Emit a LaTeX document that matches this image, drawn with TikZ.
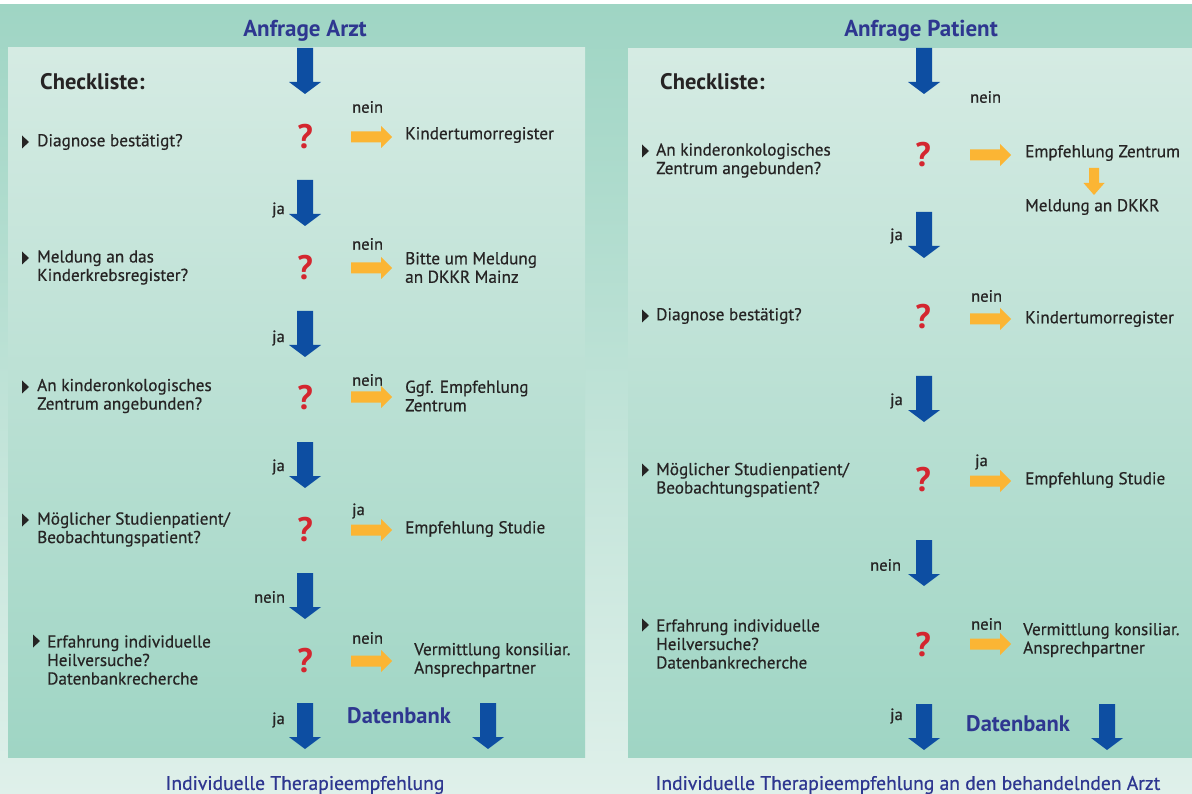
\documentclass[tikz,border=0pt]{standalone}
\usepackage{fontspec}
\setmainfont{PT Sans}
\newfontfamily\medfont{PT Sans}[FakeBold=0.6]
\definecolor{bgtop}{HTML}{9FD5C4}
\definecolor{bgbottom}{HTML}{DFF0EA}
\definecolor{intop}{HTML}{D5EBE3}
\definecolor{inbottom}{HTML}{9FD5C4}
\definecolor{arrowblue}{HTML}{0D4EA2}
\definecolor{arroworange}{HTML}{FBB534}
\definecolor{titleblue}{HTML}{2E3790}
\definecolor{txtdark}{HTML}{262424}
\definecolor{qred}{HTML}{D4262F}
\begin{document}
\begin{tikzpicture}[x=1pt,y=-1pt,
  txt/.style={anchor=west,inner sep=0pt,font=\medfont\fontsize{17.2}{18.5}\selectfont,text=txtdark,align=left},
  lbl/.style={anchor=west,inner sep=0pt,font=\medfont\fontsize{16.5}{18}\selectfont,text=txtdark},
  headtitle/.style={inner sep=0pt,font=\fontsize{23}{26}\selectfont\bfseries,text=titleblue},
  foottitle/.style={inner sep=0pt,font=\medfont\fontsize{19.6}{22}\selectfont,text=titleblue},
  dbtitle/.style={anchor=west,inner sep=0pt,font=\fontsize{22.5}{26}\selectfont\bfseries,text=titleblue},
  checkl/.style={anchor=west,inner sep=0pt,font=\fontsize{22.5}{26}\selectfont\bfseries,text=txtdark},
  qm/.style={inner sep=0pt,font=\fontsize{34}{34}\selectfont\bfseries,text=qred},
  bluedown/.pic={\fill[arrowblue] (-8,0) -- (8,0) -- (8,34) -- (16,34) -- (0,46) -- (-16,34) -- (-8,34) -- cycle;},
  orangeright/.pic={\fill[arroworange] (0,-5.5) -- (30,-5.5) -- (30,-11) -- (41,0) -- (30,11) -- (30,5.5) -- (0,5.5) -- cycle;},
  smalldown/.pic={\fill[arroworange] (-5,0) -- (5,0) -- (5,15) -- (10.5,15) -- (0,27) -- (-10.5,15) -- (-5,15) -- cycle;},
  tri/.pic={\fill[txtdark] (0,-6.5) -- (7,0) -- (0,6.5) -- cycle;}
]
\useasboundingbox (0,0) rectangle (1192,794);
\fill[white] (0,0) rectangle (1192,794);
\shade[top color=bgtop,bottom color=bgbottom] (0,5) rectangle (1192,794);
\shade[top color=intop,bottom color=inbottom] (8,48) rectangle (585,757);
\shade[top color=intop,bottom color=inbottom] (628,49) rectangle (1192,757);

% ---------------- left panel ----------------
\node[headtitle] (tA) at (305,30.5) {Anfrage Arzt};
\node[checkl] (cA) at (40,82) {Checkliste:};
\pic (aA0) at (305,48) {bluedown};

\pic (bA1) at (22,142) {tri};
\node[txt] (lA1) at (37,142) {Diagnose bestätigt?};
\node[qm] (qA1) at (305,137) {?};
\pic (oA1) at (351,137) {orangeright};
\node[lbl] (nA1) at (352,107) {nein};
\node[txt] (rA1) at (405,135) {Kindertumorregister};
\pic (aA1) at (305,180) {bluedown};
\node[lbl] (jA1) at (272,210) {ja};

\pic (bA2) at (22,258) {tri};
\node[txt] (lA2) at (37,267.5) {Meldung an das\\Kinderkrebsregister?};
\node[qm] (qA2) at (305,268) {?};
\pic (oA2) at (351,268) {orangeright};
\node[lbl] (nA2) at (352,244) {nein};
\node[txt] (rA2) at (405,267.5) {Bitte um Meldung\\an DKKR Mainz};
\pic (aA2) at (305,311) {bluedown};
\node[lbl] (jA2) at (272,338) {ja};

\pic (bA3) at (22,387) {tri};
\node[txt] (lA3) at (37,396) {An kinderonkologisches\\Zentrum angebunden?};
\node[qm] (qA3) at (305,398) {?};
\pic (oA3) at (351,397) {orangeright};
\node[lbl] (nA3) at (352,380) {nein};
\node[txt] (rA3) at (405,396) {Ggf. Empfehlung\\Zentrum};
\pic (aA3) at (305,442) {bluedown};
\node[lbl] (jA3) at (272,467) {ja};

\pic (bA4) at (22,520) {tri};
\node[txt] (lA4) at (37,529.5) {Möglicher Studienpatient/\\Beobachtungspatient?};
\node[qm] (qA4) at (305,530) {?};
\pic (oA4) at (351,530) {orangeright};
\node[lbl] (nA4) at (352,511) {ja};
\node[txt] (rA4) at (405,529) {Empfehlung Studie};
\pic (aA4) at (305,573) {bluedown};
\node[lbl] (jA4) at (254,597) {nein};

\pic (bA5) at (33,641) {tri};
\node[txt] (lA5) at (47,660) {Erfahrung individuelle\\Heilversuche?\\Datenbankrecherche};
\node[qm] (qA5) at (305,661) {?};
\pic (oA5) at (351,661) {orangeright};
\node[lbl] (nA5) at (352,638) {nein};
\node[txt] (rA5) at (414,660) {Vermittlung konsiliar.\\Ansprechpartner};
\pic (aA5) at (305,703) {bluedown};
\node[lbl] (jA5) at (272,720) {ja};
\node[dbtitle] (dA) at (347,716) {Datenbank};
\pic (aA6) at (488,703) {bluedown};
\node[foottitle] (fA) at (305,785) {Individuelle Therapieempfehlung};

% ---------------- right panel ----------------
\node[headtitle] (tP) at (921,30.5) {Anfrage Patient};
\node[checkl] (cP) at (660,82) {Checkliste:};
\pic (aP0) at (924,48) {bluedown};
\node[lbl] (nP0) at (970,97) {nein};

\pic (bP1) at (642,151) {tri};
\node[txt] (lP1) at (656,160.5) {An kinderonkologisches\\Zentrum angebunden?};
\node[qm] (qP1) at (923,155) {?};
\pic (oP1) at (970,155) {orangeright};
\node[txt] (rP1) at (1025,153) {Empfehlung Zentrum};
\pic (sP1) at (1094,168) {smalldown};
\node[txt] (rP1b) at (1025,207) {Meldung an DKKR};
\pic (aP1) at (924,212) {bluedown};
\node[lbl] (jP1) at (890,236) {ja};

\pic (bP2) at (642,316) {tri};
\node[txt] (lP2) at (656,316) {Diagnose bestätigt?};
\node[qm] (qP2) at (923,317) {?};
\pic (oP2) at (970,319) {orangeright};
\node[lbl] (nP2) at (971,296) {nein};
\node[txt] (rP2) at (1025,319) {Kindertumorregister};
\pic (aP2) at (924,376) {bluedown};
\node[lbl] (jP2) at (890,401) {ja};

\pic (bP3) at (642,470) {tri};
\node[txt] (lP3) at (656,480) {Möglicher Studienpatient/\\Beobachtungspatient?};
\node[qm] (qP3) at (923,480) {?};
\pic (oP3) at (970,481) {orangeright};
\node[lbl] (nP3) at (975,462) {ja};
\node[txt] (rP3) at (1025,480) {Empfehlung Studie};
\pic (aP3) at (924,540) {bluedown};
\node[lbl] (jP3) at (870,565) {nein};

\pic (bP4) at (642,625) {tri};
\node[txt] (lP4) at (656,644) {Erfahrung individuelle\\Heilversuche?\\Datenbankrecherche};
\node[qm] (qP4) at (923,645) {?};
\pic (oP4) at (970,644) {orangeright};
\node[lbl] (nP4) at (971,624) {nein};
\node[txt] (rP4) at (1023,640) {Vermittlung konsiliar.\\Ansprechpartner};
\pic (aP4) at (924,704) {bluedown};
\node[lbl] (jP4) at (890,716) {ja};
\node[dbtitle] (dP) at (966,724) {Datenbank};
\pic (aP5) at (1107,704) {bluedown};
\node[foottitle] (fP) at (908,785) {Individuelle Therapieempfehlung an den behandelnden Arzt};
\end{tikzpicture}
\end{document}
